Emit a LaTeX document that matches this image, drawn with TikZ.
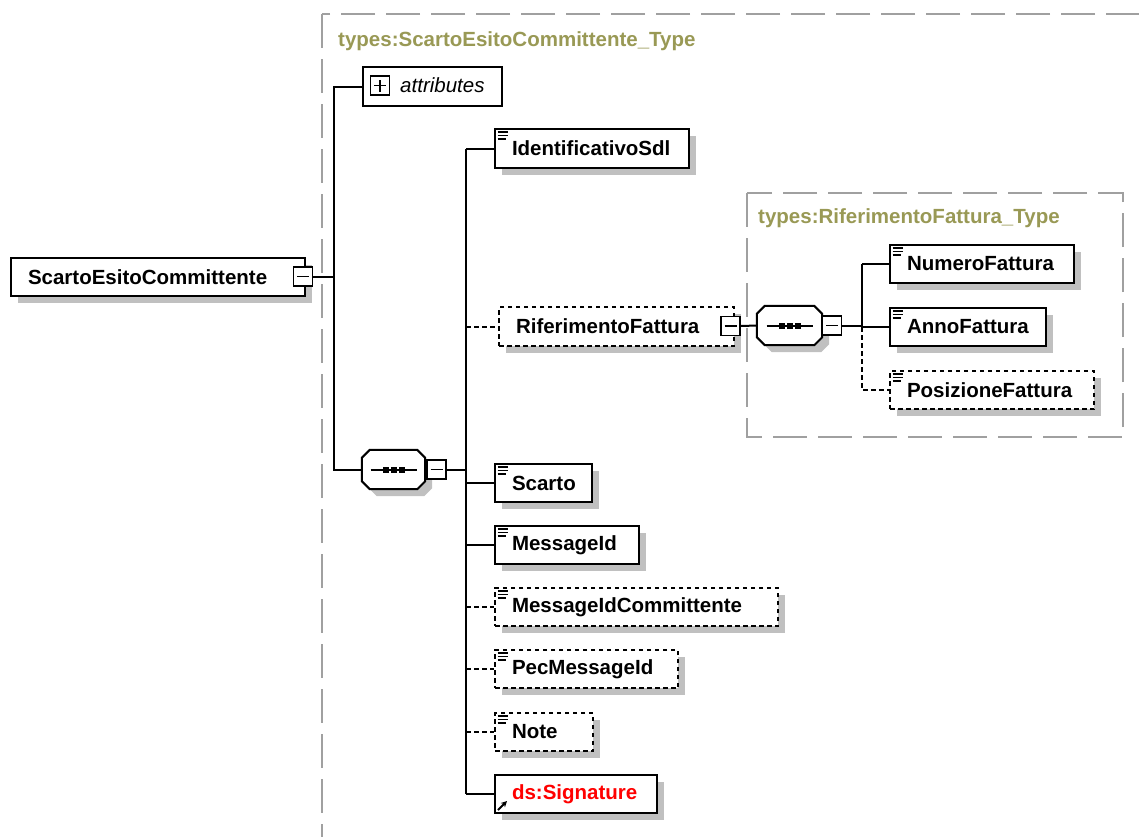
\documentclass[tikz,border=0pt]{standalone}
\usepackage{fontspec}
\setmainfont{Liberation Sans}
\usetikzlibrary{shadows,arrows.meta}
\definecolor{typecol}{RGB}{153,153,85}
\definecolor{shadowcol}{RGB}{192,192,192}
\definecolor{boxgray}{RGB}{160,160,160}
\tikzset{
  elem/.style={draw=black, line width=2pt, fill=white, anchor=north west,
    inner xsep=17pt, inner ysep=0pt, align=left,
    font=\fontsize{20.5}{24}\selectfont\bfseries,
    general shadow={fill=shadowcol, shadow xshift=7pt, shadow yshift=-7pt}},
  optelem/.style={elem, dash pattern=on 4.5pt off 3.5pt},
  conn/.style={draw=black, line width=2pt},
  optconn/.style={conn, dash pattern=on 4.5pt off 3.5pt},
  typebox/.style={draw=boxgray, line width=2pt, dash pattern=on 34pt off 11pt},
  typelabel/.style={text=typecol, font=\fontsize{20.5}{24}\selectfont\bfseries, anchor=west, inner sep=0pt},
  pmbox/.style={draw=black, line width=1.8pt, fill=white, minimum size=19pt, inner sep=0pt},
  seqbox/.style={minimum width=#1, minimum height=39pt, inner sep=0pt},
}
\newcommand\octdraw[2]{%
  \draw[#2] ([xshift=8pt]#1.north west) -- ([xshift=-8pt]#1.north east)
    -- ([yshift=-8pt]#1.north east) -- ([yshift=8pt]#1.south east)
    -- ([xshift=-8pt]#1.south east) -- ([xshift=8pt]#1.south west)
    -- ([yshift=8pt]#1.south west) -- ([yshift=-8pt]#1.north west) -- cycle;}
\newcommand\seqshape[1]{%
  \octdraw{#1}{fill=shadowcol, draw=none, transform canvas={xshift=7pt, yshift=-7pt}}%
  \octdraw{#1}{fill=white, draw=black, line width=2pt}%
  \draw[line width=2pt] ([xshift=-23pt]#1.center) -- ([xshift=23pt]#1.center);
  \fill ([xshift=-8pt]#1.center) +(-3pt,-3pt) rectangle +(3pt,3pt);
  \fill (#1.center) +(-3pt,-3pt) rectangle +(3pt,3pt);
  \fill ([xshift=8pt]#1.center) +(-3pt,-3pt) rectangle +(3pt,3pt);}
\newcommand\minusmark[1]{\draw[line width=1.6pt] ([xshift=-6pt]#1.center) -- ([xshift=6pt]#1.center);}
\newcommand\elicon[1]{%
  \draw[line width=1.7pt] ([shift={(3.5pt,-4pt)}]#1.north west) -- ++(10,0);
  \draw[line width=1.7pt] ([shift={(3.5pt,-7.5pt)}]#1.north west) -- ++(10,0);
  \draw[line width=1.7pt] ([shift={(3.5pt,-11pt)}]#1.north west) -- ++(8,0);}
\begin{document}
\begin{tikzpicture}[x=1pt,y=-1pt]
\useasboundingbox (0,0) rectangle (1139,836);
\clip (0,0) rectangle (1139,836);
\fill[white] (0,0) rectangle (1139,836);
% type boxes
\draw[typebox] (322,14) rectangle (1170,880);
\node[typelabel] (outerlabel) at (338,41) {types:ScartoEsitoCommittente\_Type};
\draw[typebox] (747,193) rectangle (1123,437);
\node[typelabel] (innerlabel) at (758,218) {types:RiferimentoFattura\_Type};
% bus coordinates
\coordinate (busA) at (334,0);
\coordinate (busB) at (466,0);
\coordinate (busC) at (862,0);
% root
\node[elem, text width=260pt, minimum height=38pt] (root) at (10,257) {ScartoEsitoCommittente};
\node[pmbox] (rootpm) at (303,276.5) {};
\minusmark{rootpm}
% attributes
\node[draw=black, line width=2pt, fill=white, anchor=north west, minimum width=139pt, minimum height=39pt, inner sep=0pt] (attr) at (362,66) {};
\node[pmbox] (attrpm) at (380,85.5) {};
\draw[line width=1.6pt] ([xshift=-6pt]attrpm.center) -- ([xshift=6pt]attrpm.center);
\draw[line width=1.6pt] ([yshift=-6pt]attrpm.center) -- ([yshift=6pt]attrpm.center);
\node[anchor=west, inner sep=0pt, font=\fontsize{20.5}{24}\selectfont\itshape] (attrtext) at (400,85.5) {attributes};
% main sequence
\node[seqbox=63pt] (seq1) at (393.5,469.5) {};
\seqshape{seq1}
\node[pmbox] (seq1pm) at (436.5,469.5) {};
\minusmark{seq1pm}
% children
\node[elem, text width=160pt, minimum height=39pt] (ident) at (494,128) {IdentificativoSdl};
\elicon{ident}
\node[optelem, text width=201pt, minimum height=39pt] (rif) at (498,306) {RiferimentoFattura};
\node[pmbox] (rifpm) at (730.5,326) {};
\minusmark{rifpm}
\node[elem, text width=63pt, minimum height=38pt] (scarto) at (494,463) {Scarto};
\elicon{scarto}
\node[elem, text width=110pt, minimum height=38pt] (msgid) at (494,525) {MessageId};
\elicon{msgid}
\node[optelem, text width=249pt, minimum height=38pt] (msgcomm) at (494,587) {MessageIdCommittente};
\elicon{msgcomm}
\node[optelem, text width=149pt, minimum height=38pt] (pec) at (494,649) {PecMessageId};
\elicon{pec}
\node[optelem, text width=64pt, minimum height=38pt] (note) at (494,712) {Note};
\elicon{note}
\node[elem, text width=128pt, minimum height=38pt, text=red] (sig) at (494,774) {ds:Signature};
\draw[line width=2pt, -{Stealth[length=6pt,width=6pt]}] ([shift={(4pt,4pt)}]sig.south west) -- ++(9,-9);
% inner sequence
\node[seqbox=65pt] (seq2) at (789.5,325.5) {};
\seqshape{seq2}
\node[pmbox] (seq2pm) at (832,325.5) {};
\minusmark{seq2pm}
\node[elem, text width=150pt, minimum height=38pt] (numero) at (889,244) {NumeroFattura};
\elicon{numero}
\node[elem, text width=122pt, minimum height=38pt] (anno) at (889,307) {AnnoFattura};
\elicon{anno}
\node[optelem, text width=170pt, minimum height=38pt] (pos) at (889,370) {PosizioneFattura};
\elicon{pos}
% connectors
\draw[conn] (rootpm.east) -- (rootpm.east -| busA);
\draw[conn] (attr.west) -- (attr.west -| busA) -- (seq1.west -| busA) -- (seq1.west);
\draw[conn] (seq1pm.east) -- (seq1pm.east -| busB);
\draw[conn] (ident.west -| busB) -- (sig.west -| busB);
\draw[conn] (ident.west -| busB) -- (ident.west);
\draw[optconn] (rif.west -| busB) -- (rif.west);
\draw[conn] (scarto.west -| busB) -- (scarto.west);
\draw[conn] (msgid.west -| busB) -- (msgid.west);
\draw[optconn] (msgcomm.west -| busB) -- (msgcomm.west);
\draw[optconn] (pec.west -| busB) -- (pec.west);
\draw[optconn] (note.west -| busB) -- (note.west);
\draw[conn] (sig.west -| busB) -- (sig.west);
\draw[conn] (rifpm.east) -- (seq2.west);
\draw[conn] (seq2pm.east) -- (seq2pm.east -| busC);
\draw[conn] (numero.west -| busC) -- (anno.west -| busC);
\draw[conn] (numero.west -| busC) -- (numero.west);
\draw[conn] (anno.west -| busC) -- (anno.west);
\draw[optconn] (anno.west -| busC) -- (pos.west -| busC) -- (pos.west);
\end{tikzpicture}
\end{document}
